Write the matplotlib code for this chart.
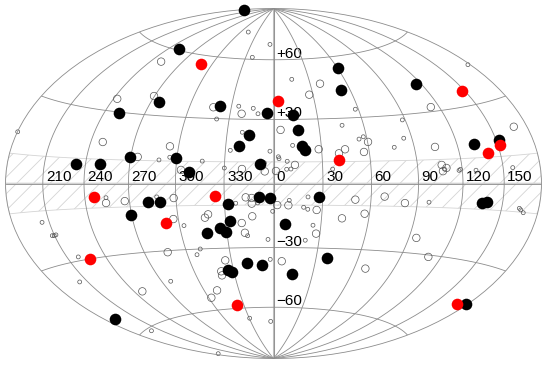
import numpy as np
import matplotlib
matplotlib.use('Agg')
import matplotlib.pyplot as plt

# Sources in degrees, longitude wrapped to -180..180
black_lon = [-178.4,-109.5,-84.0,-38.3,-4.3,-108.7,-15.6,-21.7,-8.4,-126.5,-109.9,-90.5,-60.6,-51.5,60.2,52.6,115.6,13.6,16.2,18.1,19.4,132.4,152.2,-78.2,-70.1,-90.4,-28.0,-9.0,-2.3,-27.5,-33.9,-30.4,-43.2,-19.3,-8.6,-34.4,-31.7,-170.2,27.7,7.1,37.5,14.4,134.4,138.4,178.7]
black_lat = [83.7,60.7,36.1,36.0,33.0,29.6,22.6,17.5,9.2,7.6,7.9,11.5,11.4,5.3,54.1,43.4,42.0,31.9,24.9,17.5,15.6,15.5,15.9,-8.1,-8.0,-13.4,-9.3,-6.1,-6.9,-17.3,-20.4,-22.5,-22.7,-37.4,-38.4,-40.5,-41.5,-52.4,-6.2,-18.7,-34.6,-42.7,-7.6,-7.1,-43.7]

red_lon = [-71.0,3.5,147.6,141.0,152.0,40.3,-113.6,-35.5,-68.3,-132.6,-36.8,171.0]
red_lat = [55.6,39.1,35.8,11.6,14.3,10.6,-5.6,-5.7,-17.6,-29.9,-58.4,-45.0]

small_lon = [-46.9,-4.8,-22.9,-24.8,-14.3,-10.7,-38.5,-179.8,-20.2,-26.9,-2.2,-71.3,-64.6,-43.9,-30.0,-5.6,3.0,3.4,12.0,8.4,10.6,8.0,36.1,15.5,57.8,178.0,88.0,45.5,
             57.9,54.8,84.5,76.7,107.7,118.7,117.7,157.4,129.7,163.9,165.3,167.9,-155.6,-151.8,-148.7,-150.3,-141.0,-156.7,-105.4,-72.1,-57.1,-23.1,-9.6,-0.5,-3.6,-16.8,-49.9,-53.3,-2.3,-82.7,-29.5,-3.7,-159.8,-173.5,9.6,21.0,18.5,21.1,25.0,20.9,97.7]
small_lat = [74.7,68.4,61.1,36.2,35.3,32.7,29.8,17.2,23.8,15.3,15.0,10.4,11.7,10.2,7.1,9.6,12.4,11.5,17.7,10.3,6.7,6.6,6.6,49.7,33.9,43.1,27.7,26.7,
             21.1,20.1,19.7,15.9,6.0,5.7,5.3,5.7,5.2,-8.7,-9.2,-10.1,-14.1,-19.3,-19.2,-19.4,-28.5,-37.3,-5.9,-5.9,-19.0,-9.1,-9.0,-12.9,-26.1,-24.3,-30.0,-32.6,-35.7,-43.9,-65.6,-67.7,-61.2,-78.0,-7.8,-6.2,-11.0,-11.9,-19.3,-26.4,-7.9]

large_lon = [-110.1,-117.1,-90.4,-42.8,-22.0,-111.5,-65.6,-85.4,-56.8,-19.2,-5.3,38.1,27.2,113.6,168.9,60.3,104.1,56.6,44.8,28.2,40.7,4.6,13.1,1.5,106.2,109.2,106.6,-105.8,-93.1,-61.4,-63.2,-42.9,-40.7,-16.9,-13.3,-13.3,-13.2,-20.0,-18.4,-73.3,-34.4,-39.5,-39.9,-113.0,-48.9,-57.6,2.3,9.1,26.6,27.5,50.2,68.5,81.9,56.9,42.9,95.2,110.4,5.9,68.5]
large_lat = [53.7,35.3,38.5,35.3,32.6,17.1,16.6,11.5,6.1,6.7,5.6,47.0,41.8,31.9,19.8,18.7,15.3,14.2,15.6,15.8,13.8,25.0,8.6,5.8,7.7,6.4,5.1,-8.1,-7.5,-6.5,-15.9,-15.6,-14.1,-6.4,-9.3,-6.7,-15.2,-18.3,-22.9,-30.7,-35.8,-41.0,-43.0,-46.4,-50.2,-53.6,-10.0,-10.1,-12.2,-23.2,-7.3,-5.8,-8.5,-13.6,-15.9,-23.3,-30.8,-36.6,-38.6]

lon_labels = ['210', '240', '270', '300', '330', '0', '30', '60', '90', '120', '150']
lon_ticks = [-150, -120, -90, -60, -30, 0, 30, 60, 90, 120, 150]
lat_labels = ['+60', '+30', '\u221230', '\u221260']
lat_ticks = [60, 30, -30, -60]

plt.rcParams['font.family'] = ['Liberation Sans', 'DejaVu Sans']
plt.rcParams['hatch.linewidth'] = 0.6
plt.rcParams['hatch.color'] = '#aaaaaa'

fig = plt.figure(figsize=(5.5, 3.66), dpi=100)
ax = fig.add_axes([5.5/550, 7.5/366, 536/550, 350/366], projection='hammer')
ax.set_aspect('auto')
ax.set_longitude_grid(30)
ax.set_latitude_grid(30)
ax.set_longitude_grid_ends(90)
ax.set_xticklabels([])
ax.set_yticklabels([])
ax.grid(True, color='#8c8c8c', lw=0.6)
ax.spines['geo'].set_edgecolor('#8c8c8c')
ax.spines['geo'].set_linewidth(0.6)

# Hatched zone of avoidance, plus the heavier equator and central meridian
lons = np.radians(np.linspace(-179.9, 179.9, 200))
ax.fill_between(lons, np.radians(-10), np.radians(10), facecolor='none', edgecolor='#d4d4d4', hatch='//', lw=0.6, zorder=1)
ax.plot(lons, np.zeros(200), color='#d2d2d2', lw=1.2, zorder=1.2)
ax.plot([0, 0], np.radians([-89.9, 89.9]), color='#bdbdbd', lw=1.5, zorder=1.2)

for lbl, l in zip(lon_labels, lon_ticks):
    ax.annotate(lbl, (np.radians(l), 0), xytext=(3, 6.5), textcoords='offset pixels', ha='left', va='center', fontsize=11, zorder=1.5)
for lbl, b in zip(lat_labels, lat_ticks):
    ax.annotate(lbl, (0, np.radians(b)), xytext=(3, 6), textcoords='offset pixels', ha='left', va='center', fontsize=11, zorder=1.5)

ax.scatter(np.radians(small_lon), np.radians(small_lat), s=8, facecolors='none', edgecolors='#555555', linewidths=0.5, zorder=2, clip_on=False)
ax.scatter(np.radians(large_lon), np.radians(large_lat), s=29, facecolors='none', edgecolors='#555555', linewidths=0.5, zorder=2, clip_on=False)
ax.scatter(np.radians(black_lon), np.radians(black_lat), s=70, color='black', linewidths=0, zorder=3, clip_on=False)
ax.scatter(np.radians(red_lon), np.radians(red_lat), s=70, color='red', linewidths=0, zorder=4, clip_on=False)

fig.savefig('out.png', dpi=100)
